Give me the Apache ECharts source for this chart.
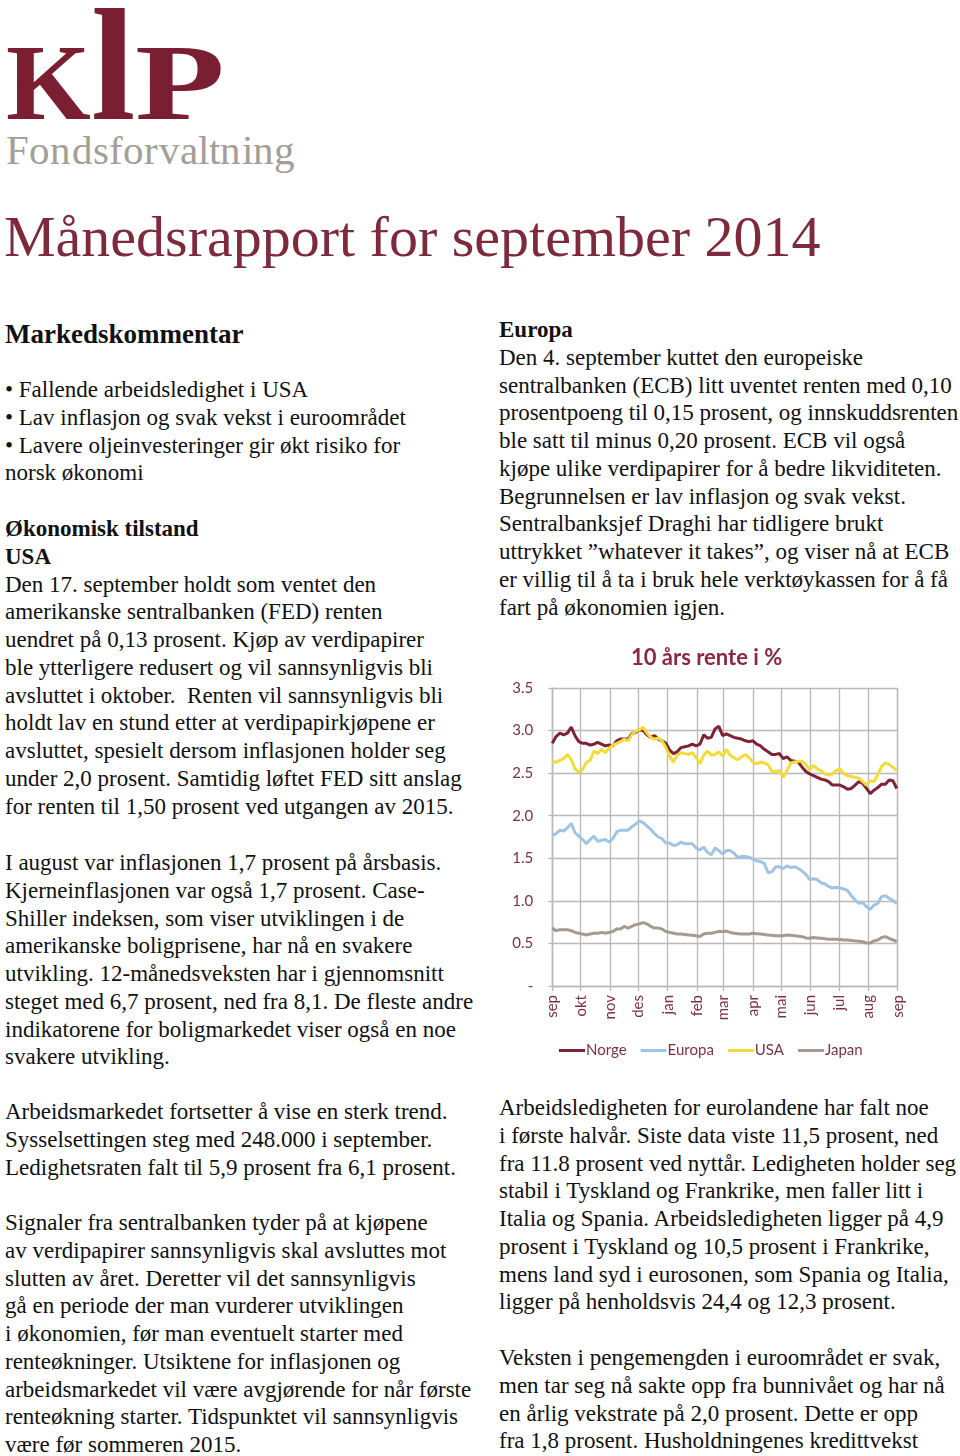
<!DOCTYPE html>
<html lang="no">
<head>
<meta charset="utf-8">
<script src="https://cdn.jsdelivr.net/npm/echarts@6/dist/echarts.min.js"></script>
<style>
  @font-face {
    font-family: 'LogoSerif';
    src: local('Liberation Serif Bold'), local('LiberationSerif-Bold');
    font-weight: bold;
    ascent-override: 72%;
    descent-override: 5%;
    line-gap-override: 0%;
  }
  @font-face {
    font-family: 'SubSerif';
    src: local('Liberation Serif'), local('LiberationSerif');
    font-weight: normal;
    ascent-override: 80%;
    descent-override: 22%;
    line-gap-override: 0%;
  }
  html, body { margin: 0; padding: 0; background: #ffffff; }
  body { width: 960px; height: 1456px; position: relative; overflow: hidden; }
  .t { position: absolute; font-family: 'Liberation Serif', 'Times New Roman', serif; font-size: 23px; line-height: 27.75px; white-space: nowrap; color: #111; }
  .b { font-weight: bold; }
  #logo { position: absolute; left: 6px; top: 4px; font-family: 'LogoSerif', 'Liberation Serif', serif; font-weight: bold; color: #7a1f31; font-size: 160px; line-height: 124px; white-space: nowrap; }
  #logo .cap { font-size: 109px; text-transform: uppercase; }
  #logo .wide { display: inline-block; transform: scaleX(1.35); transform-origin: 0 50%; }
  #sub { position: absolute; left: 6px; top: 130px; font-family: 'SubSerif', 'Liberation Serif', serif; font-size: 41px; line-height: 44px; color: #a39e96; letter-spacing: 0.2px; white-space: nowrap; }
  #title { position: absolute; left: 4px; top: 208px; font-family: 'Liberation Serif', serif; font-size: 58px; line-height: 1; color: #7d2a3c; white-space: nowrap; }
  #chart { position: absolute; left: 480px; top: 630px; width: 480px; height: 440px; }
</style>
</head>
<body>
<div id="logo"><span class="cap">k</span><span>l</span><span class="cap wide">p</span></div>
<div id="sub">Fondsforvaltning</div>
<div id="title">Månedsrapport for september 2014</div>

<div class="t b" style="left:5px; top:319px; font-size:27px; line-height:30px;">Markedskommentar</div>
<div class="t" style="left:5px; top:376px;">• Fallende arbeidsledighet i USA<br>• Lav inflasjon og svak vekst i euroområdet<br>• Lavere oljeinvesteringer gir økt risiko for<br>norsk økonomi</div>
<div class="t" style="left:5px; top:515px;"><span class="b">Økonomisk tilstand</span><br><span class="b">USA</span><br>Den 17. september holdt som ventet den<br>amerikanske sentralbanken (FED) renten<br>uendret på 0,13 prosent. Kjøp av verdipapirer<br>ble ytterligere redusert og vil sannsynligvis bli<br>avsluttet i oktober.&nbsp; Renten vil sannsynligvis bli<br>holdt lav en stund etter at verdipapirkjøpene er<br>avsluttet, spesielt dersom inflasjonen holder seg<br>under 2,0 prosent. Samtidig løftet FED sitt anslag<br>for renten til 1,50 prosent ved utgangen av 2015.</div>
<div class="t" style="left:5px; top:849px;">I august var inflasjonen 1,7 prosent på årsbasis.<br>Kjerneinflasjonen var også 1,7 prosent. Case-<br>Shiller indeksen, som viser utviklingen i de<br>amerikanske boligprisene, har nå en svakere<br>utvikling. 12-månedsveksten har i gjennomsnitt<br>steget med 6,7 prosent, ned fra 8,1. De fleste andre<br>indikatorene for boligmarkedet viser også en noe<br>svakere utvikling.</div>
<div class="t" style="left:5px; top:1098px;">Arbeidsmarkedet fortsetter å vise en sterk trend.<br>Sysselsettingen steg med 248.000 i september.<br>Ledighetsraten falt til 5,9 prosent fra 6,1 prosent.</div>
<div class="t" style="left:5px; top:1209px;">Signaler fra sentralbanken tyder på at kjøpene<br>av verdipapirer sannsynligvis skal avsluttes mot<br>slutten av året. Deretter vil det sannsynligvis<br>gå en periode der man vurderer utviklingen<br>i økonomien, før man eventuelt starter med<br>renteøkninger. Utsiktene for inflasjonen og<br>arbeidsmarkedet vil være avgjørende for når første<br>renteøkning starter. Tidspunktet vil sannsynligvis<br>være før sommeren 2015.</div>

<div class="t" style="left:499px; top:316px;"><span class="b">Europa</span><br>Den 4. september kuttet den europeiske<br>sentralbanken (ECB) litt uventet renten med 0,10<br>prosentpoeng til 0,15 prosent, og innskuddsrenten<br>ble satt til minus 0,20 prosent. ECB vil også<br>kjøpe ulike verdipapirer for å bedre likviditeten.<br>Begrunnelsen er lav inflasjon og svak vekst.<br>Sentralbanksjef Draghi har tidligere brukt<br>uttrykket ”whatever it takes”, og viser nå at ECB<br>er villig til å ta i bruk hele verktøykassen for å få<br>fart på økonomien igjen.</div>
<div class="t" style="left:499px; top:1094px;">Arbeidsledigheten for eurolandene har falt noe<br>i første halvår. Siste data viste 11,5 prosent, ned<br>fra 11.8 prosent ved nyttår. Ledigheten holder seg<br>stabil i Tyskland og Frankrike, men faller litt i<br>Italia og Spania. Arbeidsledigheten ligger på 4,9<br>prosent i Tyskland og 10,5 prosent i Frankrike,<br>mens land syd i eurosonen, som Spania og Italia,<br>ligger på henholdsvis 24,4 og 12,3 prosent.</div>
<div class="t" style="left:499px; top:1344px;">Veksten i pengemengden i euroområdet er svak,<br>men tar seg nå sakte opp fra bunnivået og har nå<br>en årlig vekstrate på 2,0 prosent. Dette er opp<br>fra 1,8 prosent. Husholdningenes kredittvekst</div>

<div id="chart"></div>

<script>
// ---- Data ----
var chartTitle = '10 års rente i %';
var seriesNames = ['Norge', 'Europa', 'USA', 'Japan'];
var monthLabels = ['jan', 'feb', 'mar', 'apr', 'mai', 'jun', 'jul', 'aug', 'sep', 'okt', 'nov', 'des'];
var startDate = [2013, 8, 1];   // 1 Sep 2013
var endDate = [2014, 8, 1];     // 1 Sep 2014
var stepDays = 4;               // one observation every 4 days

var norge = [
  2.85, 2.93, 2.97, 2.95, 2.97, 3.04, 2.94, 2.87, 2.85, 2.85,
  2.83, 2.84, 2.86, 2.84, 2.82, 2.83, 2.82, 2.88, 2.90, 2.90,
  2.90, 2.96, 2.98, 3.01, 3.00, 2.95, 2.92, 2.94, 2.90, 2.88,
  2.85, 2.77, 2.73, 2.75, 2.80, 2.81, 2.82, 2.84, 2.82, 2.84,
  2.95, 2.91, 2.92, 3.02, 3.05, 2.94, 2.96, 2.94, 2.92, 2.91,
  2.90, 2.88, 2.87, 2.88, 2.84, 2.82, 2.78, 2.75, 2.72, 2.72,
  2.73, 2.67, 2.69, 2.65, 2.64, 2.63, 2.57, 2.52, 2.49, 2.47,
  2.45, 2.43, 2.42, 2.40, 2.36, 2.36, 2.36, 2.34, 2.31, 2.32,
  2.36, 2.40, 2.38, 2.32, 2.26, 2.30, 2.33, 2.37, 2.37, 2.42,
  2.41, 2.32
];
var europa = [
  1.77, 1.79, 1.83, 1.82, 1.86, 1.91, 1.80, 1.76, 1.72, 1.67,
  1.72, 1.76, 1.70, 1.71, 1.72, 1.69, 1.73, 1.81, 1.83, 1.83,
  1.83, 1.87, 1.90, 1.94, 1.92, 1.88, 1.84, 1.79, 1.75, 1.73,
  1.68, 1.68, 1.65, 1.66, 1.69, 1.67, 1.67, 1.67, 1.62, 1.60,
  1.63, 1.57, 1.54, 1.62, 1.59, 1.55, 1.59, 1.59, 1.56, 1.51,
  1.52, 1.52, 1.51, 1.49, 1.47, 1.46, 1.44, 1.33, 1.34, 1.40,
  1.40, 1.38, 1.41, 1.39, 1.40, 1.38, 1.35, 1.31, 1.25, 1.26,
  1.25, 1.21, 1.20, 1.17, 1.15, 1.16, 1.15, 1.14, 1.12, 1.06,
  1.01, 0.97, 0.98, 0.93, 0.90, 0.95, 0.97, 1.05, 1.06, 1.03,
  1.00, 0.97
];
var usa = [
  2.63, 2.63, 2.65, 2.67, 2.72, 2.66, 2.55, 2.51, 2.54, 2.63,
  2.65, 2.76, 2.73, 2.78, 2.74, 2.79, 2.83, 2.85, 2.87, 2.90,
  2.88, 2.95, 2.99, 3.01, 3.04, 2.97, 2.92, 2.90, 2.91, 2.88,
  2.80, 2.70, 2.63, 2.71, 2.74, 2.73, 2.72, 2.74, 2.68, 2.61,
  2.71, 2.76, 2.71, 2.72, 2.75, 2.70, 2.78, 2.71, 2.68, 2.66,
  2.69, 2.72, 2.68, 2.63, 2.61, 2.63, 2.62, 2.60, 2.52, 2.52,
  2.53, 2.45, 2.53, 2.62, 2.63, 2.64, 2.64, 2.60, 2.54, 2.59,
  2.55, 2.53, 2.49, 2.48, 2.49, 2.53, 2.55, 2.49, 2.47, 2.46,
  2.45, 2.44, 2.40, 2.36, 2.41, 2.40, 2.48, 2.58, 2.62, 2.60,
  2.57, 2.53
];
var japan = [
  0.68, 0.65, 0.66, 0.66, 0.66, 0.65, 0.63, 0.62, 0.61, 0.60,
  0.61, 0.62, 0.62, 0.63, 0.62, 0.63, 0.64, 0.67, 0.67, 0.70,
  0.68, 0.70, 0.72, 0.73, 0.745, 0.73, 0.70, 0.68, 0.68, 0.67,
  0.64, 0.63, 0.62, 0.61, 0.61, 0.605, 0.60, 0.595, 0.59, 0.58,
  0.61, 0.62, 0.62, 0.63, 0.64, 0.64, 0.645, 0.63, 0.62, 0.615,
  0.61, 0.61, 0.61, 0.62, 0.615, 0.61, 0.605, 0.60, 0.595, 0.59,
  0.59, 0.59, 0.60, 0.595, 0.59, 0.585, 0.58, 0.565, 0.56, 0.57,
  0.565, 0.56, 0.555, 0.55, 0.55, 0.55, 0.545, 0.54, 0.54, 0.535,
  0.53, 0.525, 0.52, 0.505, 0.505, 0.53, 0.54, 0.57, 0.58, 0.56,
  0.54, 0.525
];
var yTicks = { min: 0, max: 3.5, interval: 0.5 };

// ---- Build chart ----
var DAY = 86400000;
var t0 = Date.UTC(startDate[0], startDate[1], startDate[2]);
var t1 = Date.UTC(endDate[0], endDate[1], endDate[2]);
function pairs(vals) {
  return vals.map(function (v, i) { return [t0 + i * stepDays * DAY, v]; });
}
var colors = ['#7e2236', '#9fc4e4', '#f2dc3a', '#a59a91'];
var allData = [norge, europa, usa, japan];
var labelColor = '#7b3343';
var gridColor = '#bdb7b7';

var chart = echarts.init(document.getElementById('chart'), null, { renderer: 'canvas' });
chart.setOption({
  useUTC: true,
  animation: false,
  textStyle: { fontFamily: 'Lato, sans-serif' },
  title: {
    text: chartTitle,
    left: 146, top: 12,
    textStyle: { fontFamily: 'Lato, sans-serif', fontSize: 22, fontWeight: 'bold', color: '#8a2a40' }
  },
  legend: {
    data: seriesNames,
    left: 74, top: 408,
    itemWidth: 26, itemHeight: 12, itemGap: 14,
    icon: 'path://M0,5 L26,5 L26,8 L0,8 Z',
    textStyle: { fontFamily: 'Lato, sans-serif', fontSize: 15, color: labelColor, padding: [0, 0, 0, -4] }
  },
  grid: { left: 72.3, top: 58, width: 345.4, height: 298, containLabel: false },
  xAxis: {
    type: 'time',
    min: t0, max: t1,
    splitNumber: 12,
    minInterval: 28 * DAY,
    maxInterval: 31 * DAY,
    axisLine: { show: true, lineStyle: { color: gridColor, width: 1.3 } },
    axisTick: { show: true, length: 5, lineStyle: { color: gridColor, width: 1.3 } },
    splitLine: { show: true, lineStyle: { color: gridColor, width: 1.3 } },
    axisLabel: {
      rotate: 90, margin: 9, fontSize: 15, color: labelColor,
      fontFamily: 'Lato, sans-serif',
      hideOverlap: false,
      formatter: function (v) { return monthLabels[new Date(v).getUTCMonth()]; }
    }
  },
  yAxis: {
    type: 'value',
    min: yTicks.min, max: yTicks.max, interval: yTicks.interval,
    axisLine: { show: true, lineStyle: { color: gridColor, width: 1.3 } },
    axisTick: { show: true, length: 4, lineStyle: { color: gridColor, width: 1.3 } },
    splitLine: { show: true, lineStyle: { color: gridColor, width: 1.3 } },
    axisLabel: {
      margin: 19, fontSize: 15, color: labelColor, fontFamily: 'Lato, sans-serif',
      formatter: function (v) { return v === 0 ? '-' : v.toFixed(1); }
    }
  },
  series: seriesNames.map(function (name, i) {
    return {
      name: name,
      type: 'line',
      data: pairs(allData[i]),
      symbol: 'none',
      smooth: false,
      color: colors[i],
      lineStyle: { color: colors[i], width: 3 }
    };
  })
});
</script>
</body>
</html>
